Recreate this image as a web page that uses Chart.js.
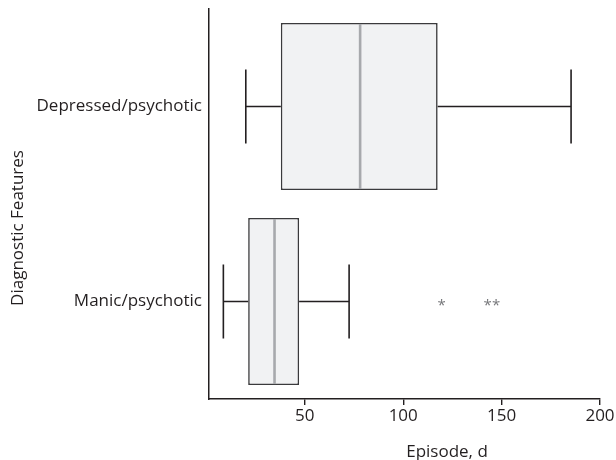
<!DOCTYPE html>
<html><head><meta charset="utf-8">
<script src="https://cdn.jsdelivr.net/npm/chart.js@4"></script>
<style>html,body{margin:0;padding:0;background:#fff}#wrap{width:616px;height:460px;position:relative}</style>
</head><body><div id="wrap"><canvas id="c" width="616" height="460"></canvas></div>
<script>
// ---- data ----
const categories = ['Depressed/psychotic', 'Manic/psychotic'];
const whiskerLow  = [20.0, 8.6];
const q1          = [37.8, 21.2];
const median      = [78.1, 34.6];
const q3          = [117.5, 47.1];
const whiskerHigh = [185.3, 72.5];
const outliers    = [[], [119.5, 142.9, 147.2]];
const xTicks      = [50, 100, 150, 200];
const xTitle = 'Episode, d';
const yTitle = 'Diagnostic Features';

const FONT = '"Open Sans", sans-serif';
const TEXT = '#231f20';
const FS = 17;

const boxExtras = {
  id: 'boxExtras',
  afterDatasetsDraw(chart) {
    const { ctx, scales: { x } } = chart;
    const meta = chart.getDatasetMeta(0);
    const px = v => x.getPixelForValue(v);
    meta.data.forEach((bar, i) => {
      const yc = bar.y, h = bar.height;
      const cap = h * 0.222;
      ctx.save();
      // whiskers
      ctx.strokeStyle = '#231f20';
      ctx.lineWidth = 1.6;
      ctx.beginPath();
      ctx.moveTo(px(whiskerLow[i]), yc); ctx.lineTo(px(q1[i]), yc);
      ctx.moveTo(px(q3[i]), yc); ctx.lineTo(px(whiskerHigh[i]), yc);
      ctx.moveTo(px(whiskerLow[i]), yc - cap); ctx.lineTo(px(whiskerLow[i]), yc + cap);
      ctx.moveTo(px(whiskerHigh[i]), yc - cap); ctx.lineTo(px(whiskerHigh[i]), yc + cap);
      ctx.stroke();
      // median
      ctx.strokeStyle = '#a7a9ac';
      ctx.lineWidth = 2.6;
      ctx.beginPath();
      ctx.moveTo(px(median[i]), yc - h / 2 + 1);
      ctx.lineTo(px(median[i]), yc + h / 2 - 1);
      ctx.stroke();
      // outliers (extreme values)
      ctx.fillStyle = '#77787b';
      ctx.font = '15px ' + FONT;
      ctx.textAlign = 'center';
      ctx.textBaseline = 'middle';
      outliers[i].forEach(v => ctx.fillText('*', px(v), yc + 4));
      ctx.restore();
    });
  },
  afterDraw(chart) {
    const { ctx } = chart;
    ctx.save();
    ctx.fillStyle = TEXT;
    ctx.font = FS + 'px ' + FONT;
    ctx.textAlign = 'center';
    ctx.textBaseline = 'alphabetic';
    ctx.fillText(xTitle, 447, 457);
    ctx.translate(23, 228);
    ctx.rotate(-Math.PI / 2);
    ctx.fillText(yTitle, 0, 0);
    ctx.restore();
  }
};

new Chart(document.getElementById('c'), {
  type: 'bar',
  data: {
    labels: categories,
    datasets: [{
      data: q1.map((v, i) => [v, q3[i]]),
      backgroundColor: '#f1f2f3',
      borderColor: '#3a3a3c',
      borderWidth: 1.6,
      borderSkipped: false,
      barPercentage: 0.857,
      categoryPercentage: 1
    }]
  },
  options: {
    indexAxis: 'y',
    responsive: false,
    animation: false,
    events: [],
    layout: { padding: { top: 9, right: 16, left: 0, bottom: 0 } },
    plugins: { legend: { display: false }, tooltip: { enabled: false }, title: { display: false } },
    scales: {
      x: {
        type: 'linear',
        min: 1.3,
        max: 200,
        afterBuildTicks: s => { s.ticks = xTicks.map(v => ({ value: v })); },
        afterFit: s => { s.height = 61; s.paddingLeft = 0; s.paddingRight = 0; },
        grid: { drawOnChartArea: false, drawTicks: true, tickLength: 6, color: '#231f20', lineWidth: 1.4 },
        border: { display: true, color: '#231f20', width: 1.5 },
        ticks: { color: TEXT, font: { family: FONT, size: FS }, padding: 1, maxRotation: 0 }
      },
      y: {
        type: 'category',
        afterFit: s => { s.width = 209; s.paddingTop = 0; s.paddingBottom = 0; },
        grid: { drawOnChartArea: false, drawTicks: false, display: true },
        border: { display: true, color: '#231f20', width: 1.5 },
        ticks: { color: TEXT, font: { family: FONT, size: FS }, padding: 7 }
      }
    }
  },
  plugins: [boxExtras]
});
</script></body></html>
